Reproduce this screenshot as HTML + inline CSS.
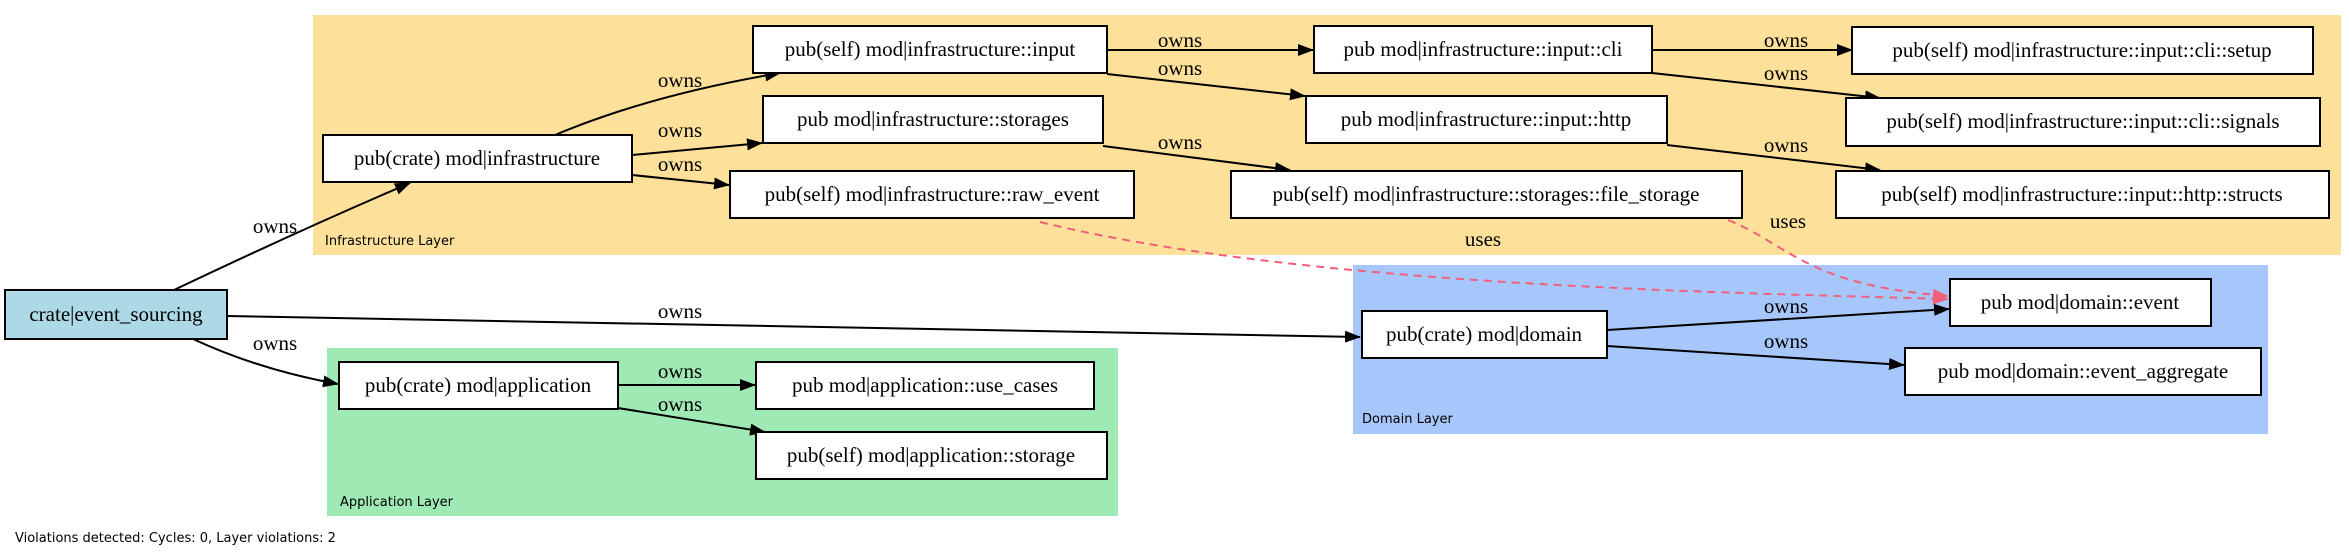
<!DOCTYPE html>
<html><head><meta charset="utf-8"><style>
html,body{margin:0;padding:0;background:#fff;}
svg{display:block;}
.n{fill:#fff;stroke:#000;stroke-width:2;}
.t{font-family:"Liberation Serif",serif;font-size:21px;fill:#000;}
.c{font-family:"DejaVu Sans","Liberation Sans",sans-serif;font-size:13px;fill:#000;}
.e{fill:none;stroke:#000;stroke-width:2;}
.u{fill:none;stroke:#f0607a;stroke-width:2;stroke-dasharray:8,6;}
</style></head><body>
<svg width="2349" height="557" viewBox="0 0 2349 557" xmlns="http://www.w3.org/2000/svg">
<defs>
<marker id="a" markerWidth="16" markerHeight="12" refX="15" refY="6" orient="auto" markerUnits="userSpaceOnUse"><path d="M0,0 L16,6 L0,12 z" fill="#000"/></marker>
<marker id="b" markerWidth="16" markerHeight="12" refX="15" refY="6" orient="auto" markerUnits="userSpaceOnUse"><path d="M0,0 L16,6 L0,12 z" fill="#f0607a"/></marker>
</defs>
<!-- clusters -->
<rect x="313" y="15" width="2028" height="240" fill="#fde09a"/>
<text class="c" x="325" y="245">Infrastructure Layer</text>
<rect x="1353" y="265" width="915" height="169" fill="#a7c7fc"/>
<text class="c" x="1362" y="423">Domain Layer</text>
<rect x="327" y="348" width="791" height="168" fill="#9fe9b4"/>
<text class="c" x="340" y="506">Application Layer</text>

<!-- edges -->
<g class="e">
<path d="M174,290 Q300,230 410,183" marker-end="url(#a)"/>
<path d="M227,316 L1360,337" marker-end="url(#a)"/>
<path d="M193,339 Q260,370 338,384" marker-end="url(#a)"/>
<path d="M555,135 Q650,95 780,73" marker-end="url(#a)"/>
<path d="M632,155 L762,143" marker-end="url(#a)"/>
<path d="M632,175 L729,185" marker-end="url(#a)"/>
<path d="M1107,50 L1313,50" marker-end="url(#a)"/>
<path d="M1107,74 L1305,96" marker-end="url(#a)"/>
<path d="M1103,146 L1290,170" marker-end="url(#a)"/>
<path d="M1652,50 L1852,50" marker-end="url(#a)"/>
<path d="M1652,73 L1880,98" marker-end="url(#a)"/>
<path d="M1667,145 L1880,170" marker-end="url(#a)"/>
<path d="M1607,330 L1949,309" marker-end="url(#a)"/>
<path d="M1607,346 L1904,365" marker-end="url(#a)"/>
<path d="M618,385 L755,385" marker-end="url(#a)"/>
<path d="M618,408 L765,432" marker-end="url(#a)"/>
</g>
<path class="u" d="M1040,222 C1300,285 1700,292 1948,299" marker-end="url(#b)"/>
<path class="u" d="M1728,220 C1790,245 1805,285 1948,296" marker-end="url(#b)"/>

<!-- edge labels -->
<g class="t" text-anchor="middle">
<text x="275" y="233">owns</text>
<text x="680" y="318">owns</text>
<text x="275" y="350">owns</text>
<text x="680" y="87">owns</text>
<text x="680" y="137">owns</text>
<text x="680" y="171">owns</text>
<text x="680" y="378">owns</text>
<text x="680" y="411">owns</text>
<text x="1180" y="47">owns</text>
<text x="1180" y="75">owns</text>
<text x="1180" y="149">owns</text>
<text x="1786" y="47">owns</text>
<text x="1786" y="80">owns</text>
<text x="1786" y="152">owns</text>
<text x="1786" y="313">owns</text>
<text x="1786" y="348">owns</text>
<text x="1483" y="246">uses</text>
<text x="1788" y="228">uses</text>
</g>

<!-- nodes -->
<rect x="5" y="290" width="222" height="49" fill="#add8e6" stroke="#000" stroke-width="2"/>
<rect class="n" x="323" y="135" width="309" height="47"/>
<rect class="n" x="753" y="26" width="354" height="47"/>
<rect class="n" x="763" y="96" width="340" height="47"/>
<rect class="n" x="730" y="171" width="404" height="47"/>
<rect class="n" x="1314" y="26" width="338" height="47"/>
<rect class="n" x="1306" y="96" width="361" height="47"/>
<rect class="n" x="1231" y="171" width="511" height="47"/>
<rect class="n" x="1852" y="27" width="461" height="47"/>
<rect class="n" x="1846" y="98" width="474" height="48"/>
<rect class="n" x="1836" y="171" width="493" height="47"/>
<rect class="n" x="1362" y="311" width="245" height="47"/>
<rect class="n" x="1950" y="279" width="261" height="47"/>
<rect class="n" x="1905" y="348" width="356" height="47"/>
<rect class="n" x="339" y="362" width="279" height="47"/>
<rect class="n" x="756" y="362" width="338" height="47"/>
<rect class="n" x="756" y="432" width="351" height="47"/>

<g class="t" text-anchor="middle">
<text x="116" y="321">crate|event_sourcing</text>
<text x="477" y="165">pub(crate) mod|infrastructure</text>
<text x="930" y="56">pub(self) mod|infrastructure::input</text>
<text x="933" y="126">pub mod|infrastructure::storages</text>
<text x="932" y="201">pub(self) mod|infrastructure::raw_event</text>
<text x="1483" y="56">pub mod|infrastructure::input::cli</text>
<text x="1486" y="126">pub mod|infrastructure::input::http</text>
<text x="1486" y="201">pub(self) mod|infrastructure::storages::file_storage</text>
<text x="2082" y="57">pub(self) mod|infrastructure::input::cli::setup</text>
<text x="2083" y="128">pub(self) mod|infrastructure::input::cli::signals</text>
<text x="2082" y="201">pub(self) mod|infrastructure::input::http::structs</text>
<text x="1484" y="341">pub(crate) mod|domain</text>
<text x="2080" y="309">pub mod|domain::event</text>
<text x="2083" y="378">pub mod|domain::event_aggregate</text>
<text x="478" y="392">pub(crate) mod|application</text>
<text x="925" y="392">pub mod|application::use_cases</text>
<text x="931" y="462">pub(self) mod|application::storage</text>
</g>

<text class="c" x="15" y="542">Violations detected: Cycles: 0, Layer violations: 2</text>
</svg>
</body></html>
